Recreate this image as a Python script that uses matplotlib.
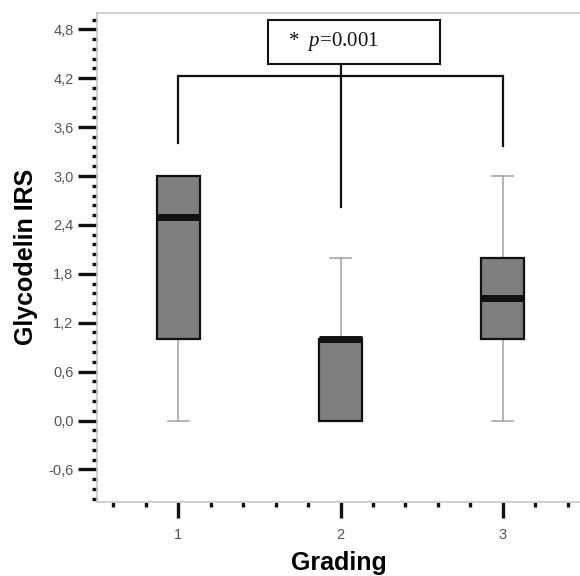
import matplotlib
matplotlib.use("Agg")
import matplotlib.pyplot as plt
from matplotlib.patches import Rectangle
from matplotlib.ticker import FixedLocator
import numpy as np

plt.rcParams['mathtext.fontset'] = 'custom'
plt.rcParams['mathtext.rm'] = 'Liberation Serif'
plt.rcParams['mathtext.it'] = 'Liberation Serif:italic'

# ---- data ----
groups = [1, 2, 3]
whisker_low = [0.0, 0.0, 0.0]
q1 = [1.0, 0.0, 1.0]
median = [2.5, 1.0, 1.5]
q3 = [3.0, 1.0, 2.0]
whisker_high = [3.0, 2.0, 3.0]

y_ticks = [-0.6, 0.0, 0.6, 1.2, 1.8, 2.4, 3.0, 3.6, 4.2, 4.8]
y_tick_labels = ["-0,6", "0,0", "0,6", "1,2", "1,8", "2,4", "3,0", "3,6", "4,2", "4,8"]
x_tick_labels = ["1", "2", "3"]

bracket_y = 4.23
bracket_ends = [3.4, 2.62, 3.37]   # lower ends of vertical legs at groups 1,2,3
p_text = r"*  $\mathit{p}$=0.001"

fig = plt.figure(figsize=(5.8, 5.76), dpi=100)
ax = fig.add_axes([97/580, 1 - 502/576, 487/580, 489/576])

stats = []
for g in range(len(groups)):
    stats.append(dict(med=median[g], q1=q1[g], q3=q3[g],
                      whislo=whisker_low[g], whishi=whisker_high[g], fliers=[]))

ax.bxp(stats, positions=groups, widths=0.265, patch_artist=True,
       showfliers=False,
       boxprops=dict(facecolor='#7f7f7f', edgecolor='#111111', linewidth=1.6, zorder=3),
       medianprops=dict(color='#111111', linewidth=5, solid_capstyle='butt', zorder=4),
       whiskerprops=dict(color='#a0a0a0', linewidth=1.1, zorder=2),
       capprops=dict(color='#a0a0a0', linewidth=1.1, zorder=2),
       capwidths=0.13)

# significance bracket
ax.plot([groups[0], groups[2]], [bracket_y, bracket_y], color='#111111', lw=1.6, zorder=5,
        solid_capstyle='butt')
ax.plot([groups[0], groups[0]], [bracket_y, bracket_ends[0]], color='#111111', lw=1.6, zorder=5)
ax.plot([groups[2], groups[2]], [bracket_y, bracket_ends[2]], color='#111111', lw=1.6, zorder=5)
ax.plot([groups[1], groups[1]], [4.37, bracket_ends[1]], color='#111111', lw=1.6, zorder=5)

ax.add_patch(Rectangle((1.556, 4.37), 1.054, 0.55, facecolor='white',
                       edgecolor='#111111', lw=1.5, zorder=6))
ax.text(1.675, 4.645, p_text, fontsize=15, family='Liberation Serif',
        ha='left', va='center', color='#111111', zorder=7)

ax.set_xlim(0.5, 3.5)
ax.set_ylim(-1.0, 5.0)

ax.set_xticks(groups)
ax.set_xticklabels(x_tick_labels)
ax.xaxis.set_minor_locator(FixedLocator([v for v in np.arange(0.6, 3.5, 0.2)
                                         if abs(v - round(v)) > 1e-6]))
ax.set_yticks(y_ticks)
ax.set_yticklabels(y_tick_labels)
ax.yaxis.set_minor_locator(FixedLocator([v for v in np.arange(-0.96, 5.0, 0.12)
                                         if min(abs(v - t) for t in y_ticks) > 1e-6]))

ax.tick_params(axis='both', which='major', direction='out', color='#111111',
               labelcolor='#555555', labelsize=10.5, width=2.4)
ax.tick_params(axis='y', which='major', length=14, pad=3)
ax.tick_params(axis='x', which='major', length=11.5, pad=7)
ax.tick_params(axis='both', which='minor', direction='out', color='#111111',
               width=2.4, length=3.4)

for s in ['top', 'bottom', 'left', 'right']:
    ax.spines[s].set_color('#c8c8c8')
    ax.spines[s].set_linewidth(1.2)

for lab in ax.get_xticklabels() + ax.get_yticklabels():
    lab.set_family('Liberation Sans')

ax.set_xlabel("Grading", fontsize=18, fontweight='bold', family='Liberation Sans')
ax.set_ylabel("Glycodelin IRS", fontsize=18, fontweight='bold', family='Liberation Sans')
ax.xaxis.set_label_coords((339 - 97) / 487, -(551 - 502) / 489)
ax.yaxis.set_label_coords(-(97 - 38) / 487, (502 - 257) / 489)

fig.savefig("out.png", dpi=100)
